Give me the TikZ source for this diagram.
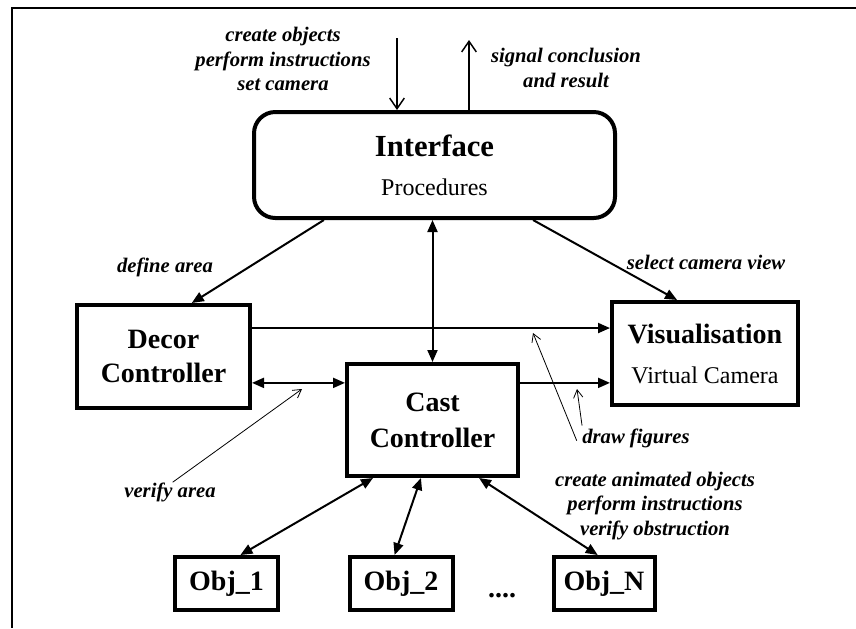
\documentclass[tikz,border=0pt]{standalone}
\usepackage{fontspec}
\setmainfont{Liberation Serif}
\usetikzlibrary{arrows.meta,calc}
\begin{document}
\begin{tikzpicture}[x=0.75pt,y=-0.75pt,
boxnode/.style={rectangle, draw=black, line width=3pt, inner sep=0pt, align=center, font=\fontsize{21}{25}\selectfont\bfseries},
notenode/.style={align=center, inner sep=0pt, font=\fontsize{15.5}{18.5}\selectfont\bfseries\itshape},
flow/.style={line width=1.5pt, -{Triangle[length=9pt,width=7.5pt]}},
twoway/.style={line width=1.5pt, {Triangle[length=9pt,width=7.5pt]}-{Triangle[length=9pt,width=7.5pt]}},
openflow/.style={line width=1.1pt, -{Straight Barb[length=8pt,width=11pt]}},
callout/.style={line width=0.6pt, -{Straight Barb[length=6pt,width=7pt]}},
]
\useasboundingbox (0,0) rectangle (856,628);
%Frame
\draw[line width=2.2pt] (856,8) -- (12,8) -- (12,628);

%Nodes
\node[boxnode, rounded corners=16pt, minimum width=270.75pt, minimum height=79.5pt] (intf) at (434.5,165)
  {{\fontsize{23}{27}\selectfont Interface}\\[4pt]{\fontsize{18}{21}\selectfont\mdseries Procedures}};
\node[boxnode, minimum width=129.75pt, minimum height=77.25pt] (decor) at (163.5,356.5) {Decor\\Controller};
\node[boxnode, minimum width=139.5pt, minimum height=77.25pt] (vis) at (705,353.5)
  {Visualisation\\[5pt]{\fontsize{18}{21}\selectfont\mdseries Virtual Camera}};
\node[boxnode, minimum width=128.25pt, minimum height=84pt] (cast) at (432.5,420) {Cast\\[2pt]Controller};
\node[boxnode, minimum width=77.25pt, minimum height=39.75pt] (obj1) at (226.5,583.5) {Obj\_1};
\node[boxnode, minimum width=77.25pt, minimum height=39.75pt] (obj2) at (401,583.5) {Obj\_2};
\node[boxnode, minimum width=75.75pt, minimum height=39.75pt] (objn) at (604,583.5) {Obj\_N};
\node[anchor=base, font=\fontsize{21}{25}\selectfont\bfseries] (dots) at (502,597) {....};

%Labels
\node[notenode] (inlabel)   at (283,59)  {create objects\\perform instructions\\set camera};
\node[notenode] (outlabel)  at (566,68)  {signal conclusion\\and result};
\node[notenode] (deflabel)  at (165,267) {define area};
\node[notenode] (sellabel)  at (706,262) {select camera view};
\node[notenode] (verlabel)  at (170,492) {verify area};
\node[notenode] (drawlabel) at (636,438) {draw figures};
\node[notenode] (objlabel)  at (655,506) {create animated objects\\perform instructions\\verify obstruction};

%Points
\coordinate (intop)  at (397,38);
\coordinate (outtop) at (469,40);
\coordinate (upper)  at ($(decor.north east)!0.234!(decor.south east)$);
\coordinate (mid)    at ($(cast.north west)!0.18!(cast.south west)$);
\coordinate (verpt)  at (302,389);
\coordinate (fig1)   at (533,333);
\coordinate (fig2)   at (577,389);

%Lines
\draw[openflow] (intop) -- (intop |- intf.north);
\draw[openflow] (outtop |- intf.north) -- (outtop);
\draw[flow] ($(intf.south west)!0.197!(intf.south east)$) -- ($(decor.north west)!0.66!(decor.north east)$);
\draw[twoway] (intf.south -| cast.north) -- (cast.north);
\draw[flow] ($(intf.south west)!0.77!(intf.south east)$) -- ($(vis.north west)!0.353!(vis.north east)$);
\draw[flow] (upper) -- (vis.west |- upper);
\draw[twoway] (decor.east |- mid) -- (mid);
\draw[flow] (cast.east |- mid) -- (vis.west |- mid);
\draw[twoway] ($(cast.south west)!0.16!(cast.south east)$) -- ($(obj1.north west)!0.63!(obj1.north east)$);
\draw[twoway] ($(cast.south west)!0.434!(cast.south east)$) -- ($(obj2.north west)!0.44!(obj2.north east)$);
\draw[twoway] ($(cast.south west)!0.766!(cast.south east)$) -- ($(objn.north west)!0.44!(objn.north east)$);

\draw[callout] ([xshift=2pt]verlabel.north) -- (verpt);
\draw[callout] ([xshift=-4pt,yshift=-2pt]drawlabel.west) -- (fig1);
\draw[callout] ([yshift=2pt]drawlabel.north west) -- (fig2);

\end{tikzpicture}
\end{document}
